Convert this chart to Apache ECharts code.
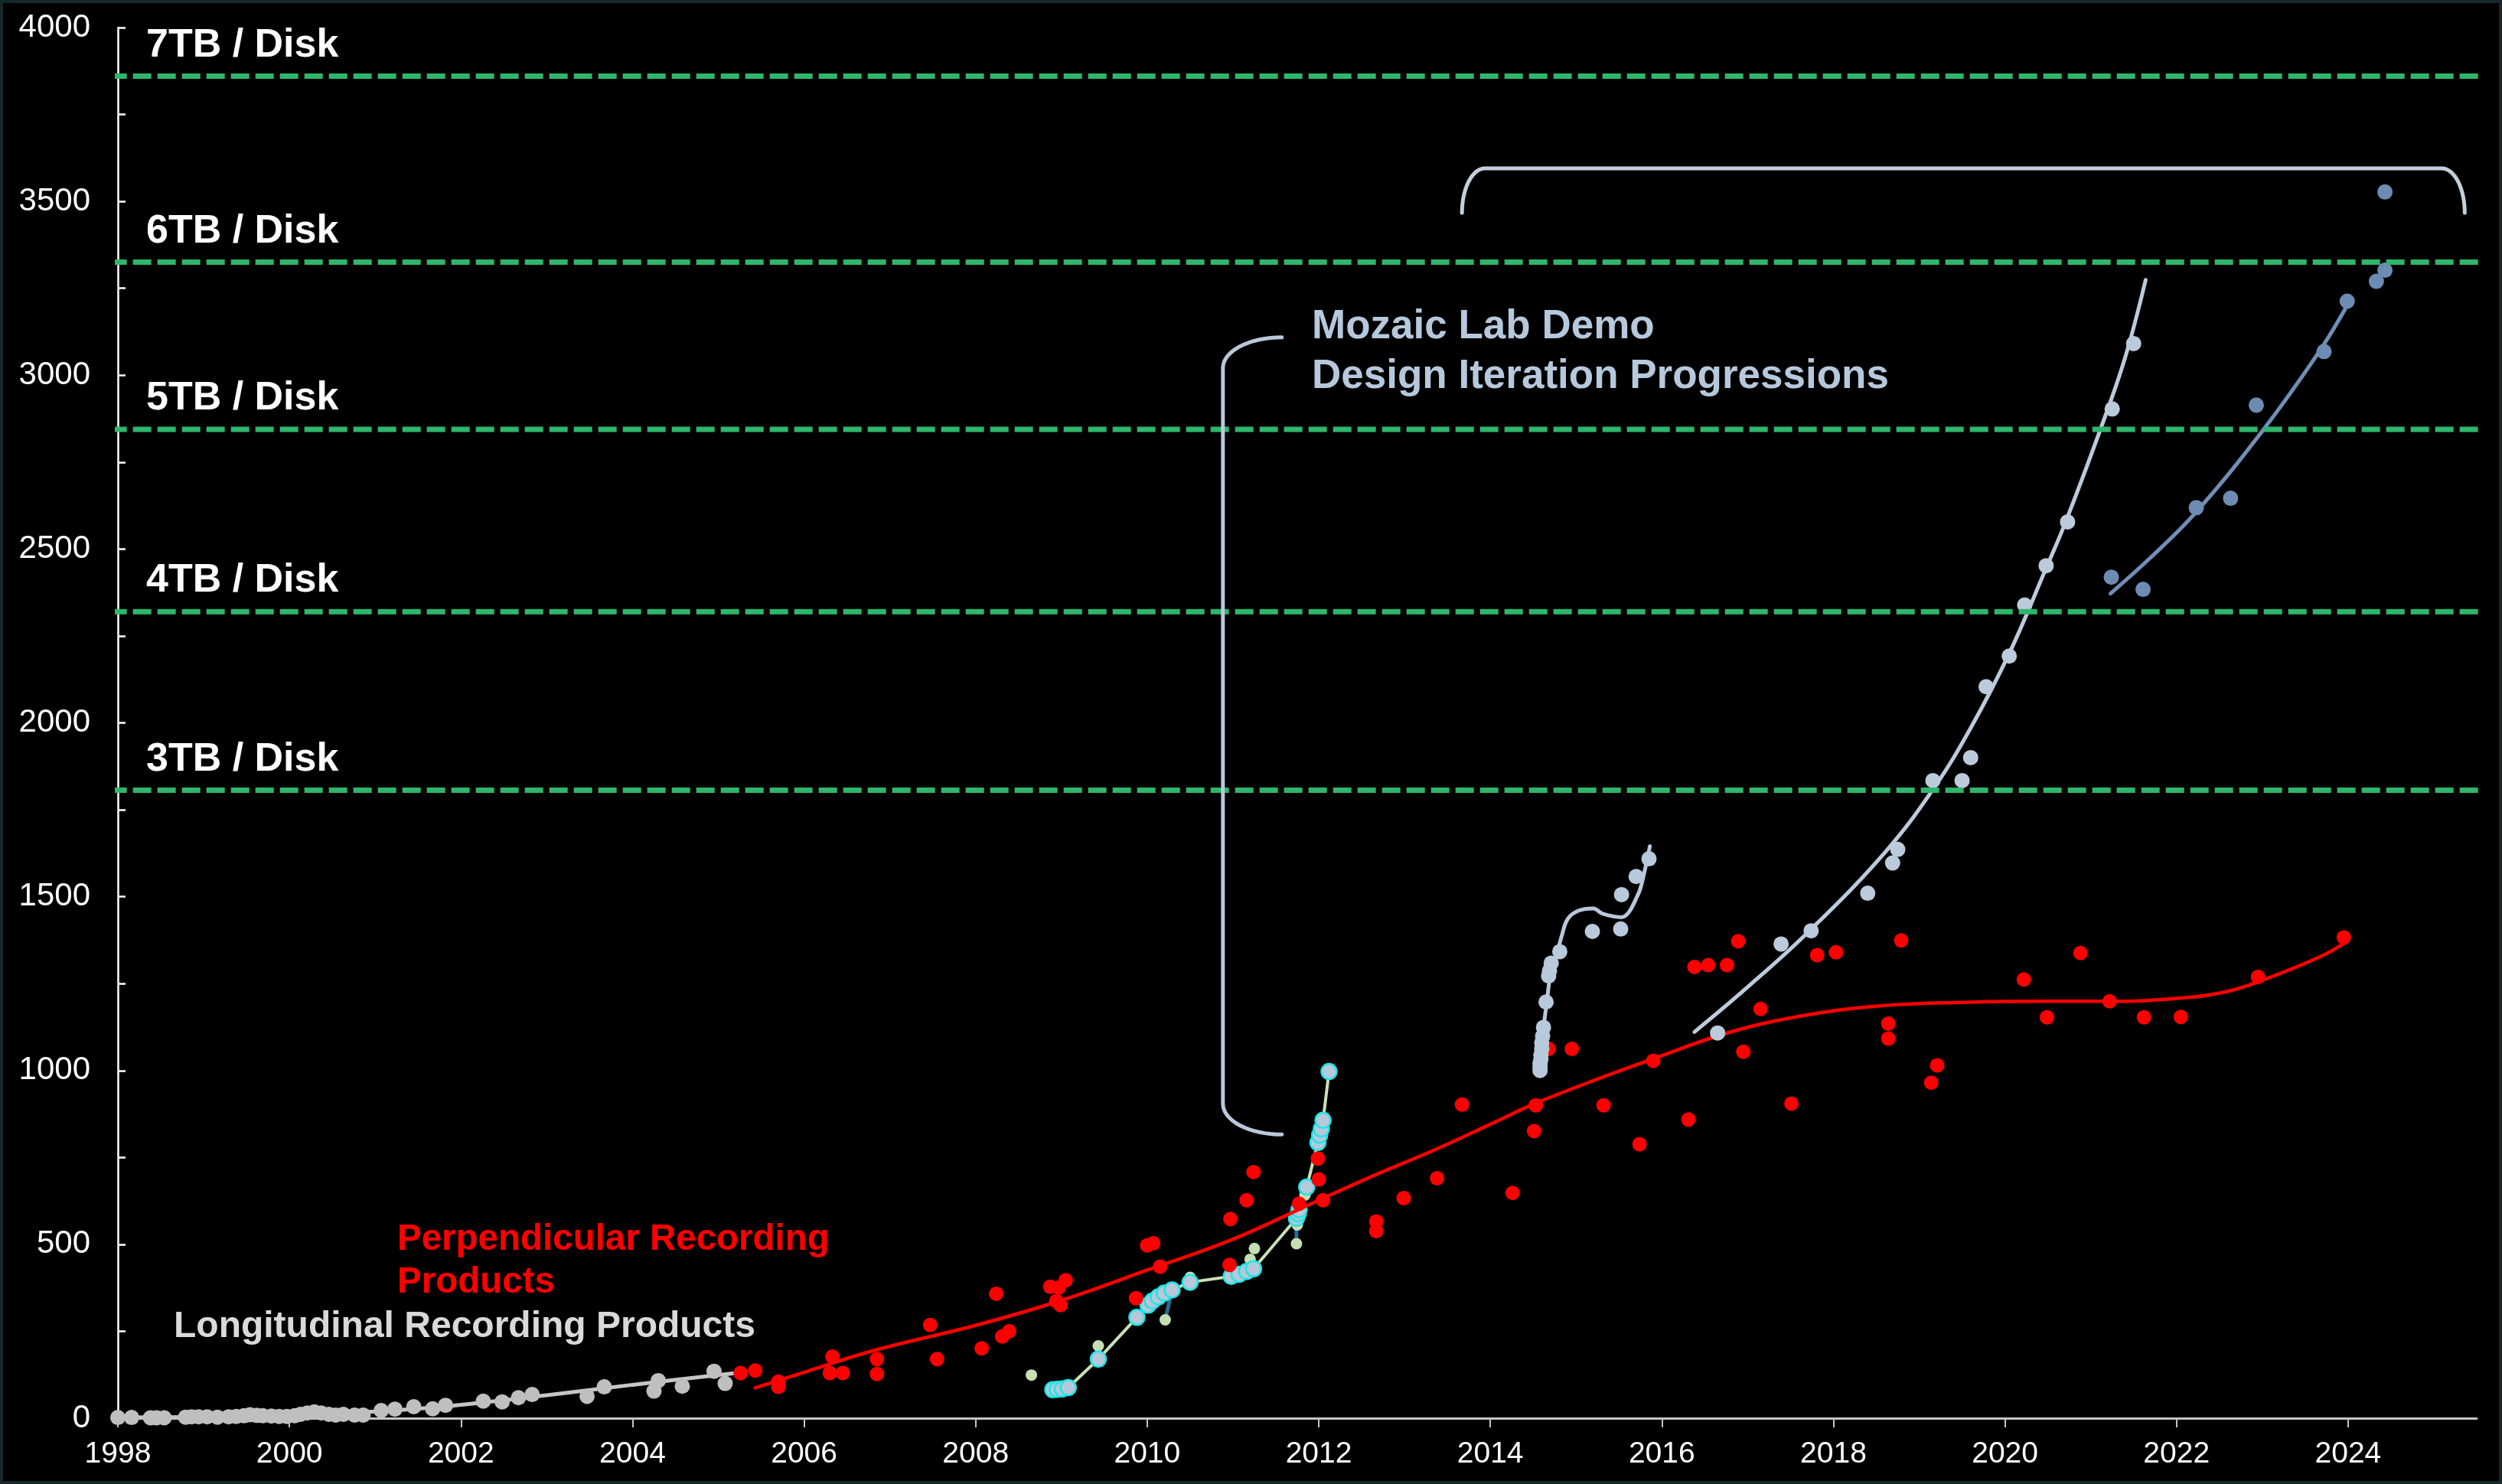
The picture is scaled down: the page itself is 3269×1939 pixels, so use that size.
<!DOCTYPE html>
<html>
<head>
<meta charset="utf-8">
<script src="https://cdn.jsdelivr.net/npm/echarts@6/dist/echarts.min.js"></script>
<style>
html,body{margin:0;padding:0;background:#000;}
#c{width:3269px;height:1939px;}
</style>
</head>
<body>
<div id="c"></div>
<script>
// ---------- axis ticks ----------
const xTicks = [1998, 2000, 2002, 2004, 2006, 2008, 2010, 2012, 2014, 2016, 2018, 2020, 2022, 2024];

// ---------- capacity reference lines ----------
const tbLabels = ['3TB / Disk', '4TB / Disk', '5TB / Disk', '6TB / Disk', '7TB / Disk'];
const tbValues = [1806, 2320, 2844, 3325, 3860];

// ---------- longitudinal recording products ----------
const longitudinalPoints = [
  [1998.00, 2], [1998.16, 2], [1998.38, 1], [1998.45, 1], [1998.54, 1], [1998.79, 3], [1998.86, 4],
  [1998.94, 4], [1999.04, 4], [1999.16, 3], [1999.29, 4], [1999.38, 5], [1999.47, 7], [1999.54, 10],
  [1999.62, 8], [1999.69, 7], [1999.79, 6], [1999.88, 5], [1999.97, 5], [2000.06, 7], [2000.13, 11],
  [2000.21, 15], [2000.29, 18], [2000.37, 15], [2000.46, 11], [2000.54, 9], [2000.63, 11], [2000.76, 9],
  [2000.86, 9], [2001.07, 22], [2001.23, 26], [2001.45, 33], [2001.67, 27], [2001.82, 37], [2002.26, 49],
  [2002.48, 47], [2002.67, 59], [2002.83, 68], [2003.47, 63], [2003.67, 90], [2004.25, 78], [2004.30, 108],
  [2004.58, 92], [2004.95, 135], [2005.08, 100]
];
const longitudinalTrend = [
  [1998.0, 2], [1999.0, 4], [2000.0, 8], [2001.0, 19], [2001.9, 36], [2003.0, 66], [2004.0, 96], [2005.17, 129]
];

// ---------- perpendicular recording products ----------
const perpendicularPoints = [
  [2005.26, 130], [2005.43, 137], [2005.70, 105], [2005.70, 90],
  [2006.33, 177], [2006.30, 130], [2006.45, 130], [2006.85, 170], [2006.85, 127],
  [2007.47, 268], [2007.55, 170], [2008.07, 201], [2008.24, 358], [2008.31, 235], [2008.39, 250],
  [2008.87, 378], [2008.97, 376], [2009.05, 397], [2008.94, 337], [2008.99, 325],
  [2009.87, 345], [2010.00, 497], [2010.07, 503], [2010.15, 436],
  [2010.97, 573], [2010.96, 441], [2011.16, 627], [2011.24, 708], [2011.77, 617], [2011.99, 747],
  [2012.00, 687], [2012.05, 627], [2012.67, 566], [2012.67, 538], [2012.99, 633], [2013.38, 690],
  [2013.67, 902], [2014.26, 648], [2014.51, 826], [2014.53, 900], [2014.68, 1062], [2014.95, 1062],
  [2015.32, 900], [2015.74, 788], [2015.90, 1028], [2016.31, 859], [2016.38, 1298], [2016.54, 1303],
  [2016.76, 1303], [2016.89, 1372], [2016.95, 1054], [2017.15, 1177], [2017.51, 905], [2017.81, 1332],
  [2018.03, 1340], [2018.64, 1135], [2018.64, 1092], [2018.79, 1374], [2019.14, 965], [2019.21, 1015],
  [2020.22, 1262], [2020.49, 1153], [2020.88, 1338], [2021.22, 1199], [2021.62, 1153], [2022.05, 1154],
  [2022.95, 1269], [2023.95, 1383]
];
const perpendicularTrend = [
  [2005.43, 87], [2006.0, 132], [2006.83, 196], [2008.0, 267], [2009.0, 339], [2010.0, 426],
  [2011.0, 515], [2012.0, 627], [2012.69, 703], [2013.38, 775], [2014.04, 850], [2014.52, 905],
  [2015.32, 982], [2015.9, 1034], [2016.79, 1110], [2017.7, 1160], [2018.6, 1187], [2019.5, 1196],
  [2020.5, 1199], [2021.22, 1199], [2022.13, 1210], [2022.6, 1228], [2022.95, 1255], [2023.67, 1327],
  [2023.99, 1372]
];

// ---------- early lab demo progression (2008-2012) ----------
const earlyGreenPoints = [
  [2008.65, 124], [2009.43, 208], [2010.21, 283], [2010.50, 405], [2011.20, 457], [2011.25, 488],
  [2011.74, 502], [2011.75, 556], [2011.84, 642]
];
const earlyBluePoints = [
  [2008.90, 82], [2008.95, 83], [2009.01, 84], [2009.08, 88], [2009.43, 170], [2009.88, 290],
  [2010.01, 325], [2010.06, 337], [2010.13, 349], [2010.20, 360], [2010.29, 369], [2010.50, 391],
  [2010.98, 408], [2011.07, 414], [2011.16, 422], [2011.24, 430], [2011.74, 575], [2011.76, 588],
  [2011.77, 600], [2011.86, 665], [2011.99, 793], [2012.01, 814], [2012.03, 832], [2012.05, 857],
  [2012.12, 997]
];
const earlyLinkA = [[2010.21, 283], [2010.29, 369]];
const earlyLinkB = [[2011.74, 502], [2011.74, 560]];

// ---------- Mozaic lab demo 2014-2015 ----------
const mozaicAPoints = [
  [2014.58, 1000], [2014.58, 1010], [2014.58, 1020], [2014.59, 1033], [2014.59, 1045], [2014.60, 1062],
  [2014.60, 1080], [2014.61, 1099], [2014.62, 1124], [2014.65, 1197], [2014.68, 1272], [2014.69, 1287],
  [2014.71, 1309], [2014.81, 1342], [2015.19, 1400], [2015.52, 1407], [2015.53, 1506], [2015.70, 1558],
  [2015.85, 1609]
];
const mozaicACurve = [
  [2014.58, 1000], [2014.62, 1120], [2014.66, 1200], [2014.71, 1290], [2014.77, 1330], [2014.83, 1385],
  [2014.90, 1435], [2015.02, 1459], [2015.20, 1466], [2015.31, 1451], [2015.53, 1441], [2015.72, 1505],
  [2015.80, 1575], [2015.86, 1645]
];

// ---------- Mozaic lab demo 2016-2021 ----------
const mozaicBPoints = [
  [2016.65, 1108], [2017.39, 1364], [2017.74, 1402], [2018.40, 1510], [2018.69, 1597], [2018.75, 1636],
  [2019.16, 1834], [2019.50, 1834], [2019.60, 1900], [2019.78, 2104], [2020.05, 2192], [2020.23, 2339],
  [2020.48, 2452], [2020.73, 2578], [2021.25, 2903], [2021.50, 3091]
];
const mozaicBCurve = [
  [2016.38, 1111], [2017.0, 1240], [2017.73, 1404], [2018.61, 1630], [2019.17, 1812], [2019.6, 1985],
  [2020.05, 2200], [2020.48, 2445], [2020.72, 2586], [2021.12, 2849], [2021.4, 3050], [2021.64, 3274]
];

// ---------- Mozaic lab demo 2021-2024 ----------
const mozaicCPoints = [
  [2021.24, 2419], [2021.61, 2384], [2022.23, 2619], [2022.63, 2646], [2022.93, 2914], [2023.72, 3068],
  [2023.99, 3213], [2024.33, 3270], [2024.43, 3302], [2024.43, 3527]
];
const mozaicCCurve = [
  [2021.23, 2372], [2021.70, 2476], [2022.22, 2604], [2022.99, 2836], [2023.65, 3063], [2023.99, 3201]
];

const FONT = '"Liberation Sans", Arial, Helvetica, sans-serif';

const chart = echarts.init(document.getElementById('c'), null, {renderer: 'canvas', width: 3269, height: 1939});

function scatter(data, color, size, z, extra) {
  return Object.assign({
    type: 'scatter', data: data, symbol: 'circle', symbolSize: size, z: z, silent: true,
    itemStyle: {color: color, opacity: 1}
  }, extra || {});
}
function curve(data, color, width, z, smooth) {
  return {
    type: 'line', data: data, symbol: 'none', showSymbol: false, smooth: smooth, z: z, silent: true,
    lineStyle: {color: color, width: width, cap: 'round'}
  };
}

const series = [];
// longitudinal
series.push(curve(longitudinalTrend, '#c6c6c6', 5, 2, 0.3));
series.push(scatter(longitudinalPoints, '#bfbfbf', 20, 2));
// early demo
series.push(scatter(earlyGreenPoints, '#c5dfb3', 15, 3));
series.push(curve(earlyLinkA, '#23708f', 5, 3, false));
series.push(curve(earlyLinkB, '#23708f', 5, 3, false));
series.push({
  type: 'line', data: earlyBluePoints, symbol: 'circle', symbolSize: 20, showSymbol: true, z: 3, silent: true,
  lineStyle: {color: '#c8e2b6', width: 4},
  itemStyle: {color: '#b6c8da', borderColor: '#1ee6e6', borderWidth: 2.5}
});
// perpendicular
series.push(curve(perpendicularTrend, '#ff0000', 4.5, 4, 0.4));
series.push(scatter(perpendicularPoints, '#ff0000', 19, 4));
// mozaic
series.push(curve(mozaicACurve, '#b8c8da', 5, 5, 0.35));
series.push(scatter(mozaicAPoints, '#b8c9db', 20, 5));
series.push(curve(mozaicBCurve, '#bccbdc', 5, 5, 0.4));
series.push(scatter(mozaicBPoints, '#bccbdb', 20, 5));
series.push(curve(mozaicCCurve, '#6f8fb7', 5, 5, 0.4));
series.push(scatter(mozaicCPoints, '#6d8cb4', 20, 5));
// capacity lines
tbValues.forEach(function (v) {
  series.push({
    type: 'line', data: [[1997.89, v], [2025.77, v]], clip: false, symbol: 'none', showSymbol: false,
    z: 6, silent: true,
    lineStyle: {color: '#2fb66c', width: 7, type: [24, 8], cap: 'butt'}
  });
});

chart.setOption({
  backgroundColor: '#000000',
  animation: false,
  grid: {left: 154, right: 33, top: 36, bottom: 86, containLabel: false, outerBoundsMode: 'none'},
  xAxis: {
    type: 'value', min: 1998, max: 2025.5, interval: 2,
    axisLine: {show: true, onZero: false, lineStyle: {color: '#c4c4c4', width: 3}},
    axisTick: {show: true, inside: false, length: 12, customValues: xTicks, lineStyle: {color: '#c4c4c4', width: 2}},
    axisLabel: {show: true, customValues: xTicks, color: '#ffffff', fontSize: 39, fontFamily: FONT, margin: 28,
      formatter: function (v) { return String(v); }},
    splitLine: {show: false}
  },
  yAxis: {
    type: 'value', min: 0, max: 4000, interval: 500,
    axisLine: {show: true, onZero: false, lineStyle: {color: '#ffffff', width: 2.5}},
    axisTick: {show: true, inside: true, length: 10, lineStyle: {color: '#ffffff', width: 2.5}},
    minorTick: {show: true, splitNumber: 2, length: 10, lineStyle: {color: '#ffffff', width: 2.5}},
    axisLabel: {show: true, color: '#ffffff', fontSize: 42, fontFamily: FONT, margin: 36,
      formatter: function (v) { return String(v); }},
    splitLine: {show: false},
    minorSplitLine: {show: false}
  },
  series: series
});

// ---------- annotations ----------
const P = function (x, y) { return chart.convertToPixel({gridIndex: 0}, [x, y]); };
const g = [];

function txt(x, y, text, color, size) {
  return {type: 'text', x: x, y: y, z: 50, silent: true,
    style: {text: text, fill: color, fontSize: size, fontWeight: 'bold', fontFamily: FONT,
      align: 'left', verticalAlign: 'middle'}};
}
function arc(cx, cy, rx, ry, a0, a1, n) {
  const pts = [];
  for (let i = 0; i <= n; i++) {
    const t = (a0 + (a1 - a0) * i / n) * Math.PI / 180;
    pts.push([cx + rx * Math.cos(t), cy + ry * Math.sin(t)]);
  }
  return pts;
}

tbValues.forEach(function (v, i) {
  const p = P(1998.33, v);
  g.push(txt(p[0], p[1] - 40, tbLabels[i], '#ffffff', 52));
});

g.push(txt(1714, 427, 'Mozaic Lab Demo', '#b6c8dc', 53));
g.push(txt(1714, 492, 'Design Iteration Progressions', '#b6c8dc', 53));
g.push(txt(519, 1620, 'Perpendicular Recording', '#ff0000', 47.5));
g.push(txt(519, 1676, 'Products', '#ff0000', 47.5));
g.push(txt(227, 1734, 'Longitudinal Recording Products', '#d9d9d9', 48));

// left bracket
(function () {
  const a = P(2011.57, 3109), b = P(2011.57, 816);
  const xEnd = a[0], yTop = a[1], yBot = b[1];
  const rx = 77, ry = 40;
  let pts = arc(xEnd, yTop + ry, rx, ry, -90, -180, 16);
  pts = pts.concat(arc(xEnd, yBot - ry, rx, ry, 180, 90, 16));
  g.push({type: 'polyline', z: 40, silent: true, shape: {points: pts},
    style: {stroke: '#b9c8da', lineWidth: 5, fill: null, lineCap: 'round', lineJoin: 'round'}});
})();
// top bracket
(function () {
  const l = P(2013.67, 3467), r = P(2025.36, 3467), t = P(2014, 3595);
  const yEnds = l[1], yTop = t[1];
  const rx = 30, ry = yEnds - yTop;
  let pts = arc(l[0] + rx, yEnds, rx, ry, 180, 270, 16);
  pts = pts.concat(arc(r[0] - rx, yEnds, rx, ry, 270, 360, 16));
  g.push({type: 'polyline', z: 40, silent: true, shape: {points: pts},
    style: {stroke: '#c3cfdd', lineWidth: 5, fill: null, lineCap: 'round', lineJoin: 'round'}});
})();

// thin frame around the picture
g.push({type: 'rect', z: 100, silent: true, shape: {x: 0, y: 0, width: 3269, height: 1939},
  style: {fill: null, stroke: '#16282a', lineWidth: 8}});

chart.setOption({graphic: g});
</script>
</body>
</html>
